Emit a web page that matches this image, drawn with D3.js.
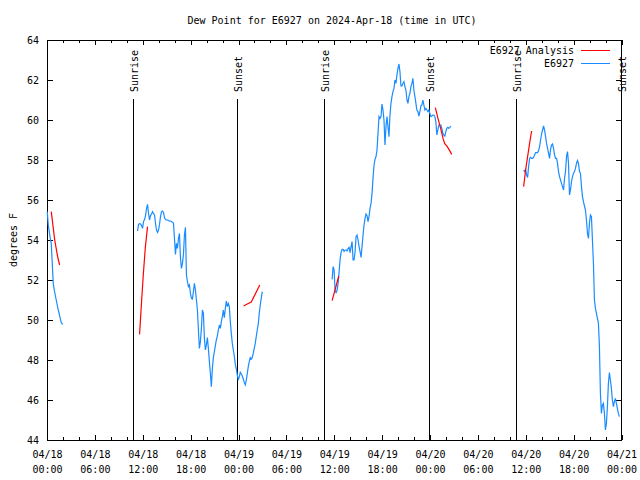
<!DOCTYPE html>
<html><head><meta charset="utf-8">
<script src="https://cdn.jsdelivr.net/npm/d3@7"></script>
<style>
body{margin:0;background:#fff}
svg text{font-family:"DejaVu Sans Mono",monospace;font-size:10px;fill:#000}
</style>
</head><body><svg id="c" width="640" height="480"></svg>
<script>
// ---------- data ----------
const chartTitle = "Dew Point for E6927 on 2024-Apr-18 (time in UTC)";
const yAxisLabel = "degrees F";
const seriesNames = ["E6927 Analysis", "E6927"];
const seriesColors = ["#ff0000", "#1a8cff"];
const xDomain = ["2024-04-18T00:00:00Z", "2024-04-21T00:00:00Z"];
const yDomain = [44, 64];
const yTickValues = [44, 46, 48, 50, 52, 54, 56, 58, 60, 62, 64];
const majorTickHours = 6;
const minorTickHours = 2;

// observations (E6927), sampled every 7.5 minutes from each start time
const sampleMinutes = 7.5;
const obsStarts = ["2024-04-18T00:02:00Z", "2024-04-18T11:21:00Z", "2024-04-19T11:44:00Z", "2024-04-20T11:44:00Z"];
const obsSeg1 = [55.42,54.75,54.42,54.08,53.83,52.83,51.83,51.5,51.25,51.0,50.75,50.5,50.3,50.08,49.87,49.8,49.8];
const obsSeg2 = [54.45,54.78,54.82,54.8,54.72,54.58,54.92,55.02,55.22,55.58,
55.78,55.33,55.0,55.22,55.3,55.42,55.32,55.25,54.83,54.5,
54.38,54.5,54.78,55.17,55.42,55.45,55.38,55.12,55.02,55.0,
55.0,54.97,54.95,54.95,54.92,54.88,54.85,54.08,53.28,53.83,
53.58,54.08,54.33,53.12,52.58,52.83,53.28,54.25,54.63,52.25,
51.92,51.67,51.75,51.33,51.08,51.05,51.42,51.83,51.5,51.0,
50.5,49.5,48.58,48.92,49.58,50.5,50.33,49.08,48.5,48.75,
49.12,48.58,47.92,47.33,46.67,47.58,48.12,48.42,48.72,49.0,
49.2,49.5,49.75,49.58,49.92,50.17,50.5,50.12,50.58,50.95,
50.67,50.83,50.67,49.92,49.33,48.83,48.5,48.2,47.78,47.55,
47.25,47.0,47.17,47.38,47.3,47.2,47.05,46.88,46.75,46.98,
47.33,47.67,47.92,48.12,48.05,48.13,48.33,48.58,48.83,49.17,
49.5,49.8,50.33,50.75,51.08,51.42];
const obsSeg3 = [52.03,52.67,52.5,51.42,51.37,51.5,51.83,52.42,53.03,53.38,
53.53,53.53,53.43,53.5,53.5,53.45,53.57,53.63,53.37,53.67,
53.92,53.0,53.0,53.42,54.17,54.25,54.0,53.67,53.42,53.13,
53.67,54.25,54.75,55.08,55.3,55.22,54.92,55.17,55.58,55.83,
56.33,57.08,57.75,58.03,58.17,58.5,59.33,60.17,60.08,60.17,
60.8,60.5,60.0,58.75,59.67,60.17,59.67,59.17,60.25,60.83,
61.17,61.42,61.58,62.0,61.83,62.25,62.58,62.8,62.42,61.7,
61.7,61.83,61.92,61.67,61.5,61.0,60.83,61.17,61.33,61.67,
61.83,62.08,61.5,61.17,60.83,60.5,60.42,60.2,60.42,60.7,
60.75,61.0,60.75,60.5,60.58,60.5,60.42,60.5,60.33,60.17,
60.2,60.25,60.25,60.17,59.92,59.25,59.5,59.75,59.75,59.75,
59.58,59.33,59.25,59.2,59.42,59.58,59.63,59.58,59.63,59.7];
const obsSeg4 = [57.5,57.42,57.53,57.25,57.13,57.67,58.08,58.13,58.08,58.08,
58.13,58.25,58.37,58.37,58.37,58.47,58.67,59.0,59.3,59.5,
59.7,59.5,59.17,58.83,58.58,58.33,58.08,58.53,58.75,58.8,
58.58,58.25,58.08,58.08,57.83,57.42,57.17,57.0,56.83,56.67,
56.5,57.08,57.42,58.17,58.42,57.83,56.25,56.5,56.92,57.17,
57.33,57.42,57.58,57.83,57.97,57.83,57.42,57.33,56.67,56.17,
55.92,55.7,55.5,55.0,54.33,54.08,54.83,55.25,55.17,54.0,
52.83,51.0,50.58,50.33,50.08,49.83,48.67,46.33,45.33,45.75,
45.83,45.33,44.5,44.83,45.67,46.83,47.37,47.0,46.58,46.0,
45.67,45.92,46.08,45.83,45.58,45.33,45.17];
const obsSegments = [obsSeg1, obsSeg2, obsSeg3, obsSeg4];

// analysis (E6927 Analysis)
const anTimes1 = ["2024-04-18T00:32Z","2024-04-18T00:58Z","2024-04-18T01:20Z","2024-04-18T01:35Z"];
const anValues1 = [55.42,54.0,53.17,52.75];
const anTimes2 = ["2024-04-18T11:36Z","2024-04-18T11:51Z","2024-04-18T12:04Z","2024-04-18T12:19Z","2024-04-18T12:36Z"];
const anValues2 = [49.28,50.9,52.25,53.6,54.67];
const anTimes3 = ["2024-04-19T00:38Z","2024-04-19T01:06Z","2024-04-19T01:36Z","2024-04-19T02:40Z"];
const anValues3 = [50.7,50.8,50.9,51.75];
const anTimes4 = ["2024-04-19T11:44Z","2024-04-19T12:34Z"];
const anValues4 = [50.97,52.2];
const anTimes5 = ["2024-04-20T00:40Z","2024-04-20T01:00Z","2024-04-20T01:20Z","2024-04-20T01:38Z","2024-04-20T01:50Z","2024-04-20T02:10Z","2024-04-20T02:28Z","2024-04-20T02:43Z"];
const anValues5 = [60.62,60.08,59.58,59.08,58.83,58.67,58.47,58.28];
const anTimes6 = ["2024-04-20T11:44Z","2024-04-20T11:59Z","2024-04-20T12:14Z","2024-04-20T12:29Z","2024-04-20T12:44Z"];
const anValues6 = [56.67,57.5,58.17,58.83,59.45];
const anTimes = [anTimes1, anTimes2, anTimes3, anTimes4, anTimes5, anTimes6];
const anValues = [anValues1, anValues2, anValues3, anValues4, anValues5, anValues6];

// sunrise / sunset markers
const sunTimes = ["2024-04-18T10:49Z","2024-04-18T23:51Z","2024-04-19T10:45Z","2024-04-19T23:55Z","2024-04-20T10:47Z","2024-04-20T23:58Z"];
const sunLabels = ["Sunrise","Sunset","Sunrise","Sunset","Sunrise","Sunset"];

// ---------- drawing ----------
const W = 640, H = 480;
const L = 47, R = 621.5, T = 40, B = 440;
const svg = d3.select("#c");
svg.append("rect").attr("width", W).attr("height", H).attr("fill", "#fff");

const x = d3.scaleUtc().domain(xDomain.map(d => new Date(d))).range([L, R]);
const y = d3.scaleLinear().domain(yDomain).range([B, T]);

const majorTicks = d3.utcHour.every(majorTickHours).range(x.domain()[0], new Date(+x.domain()[1] + 1));
const minorTicks = d3.utcHour.every(minorTickHours).range(x.domain()[0], new Date(+x.domain()[1] + 1))
  .filter(d => d.getUTCHours() % majorTickHours !== 0);

function styleAxis(g) {
  g.select(".domain").remove();
  g.selectAll("line").attr("stroke", "#000").attr("shape-rendering", "crispEdges");
}

// bottom axis (inward ticks)
const gB = svg.append("g").attr("transform", `translate(0,${B})`)
  .call(d3.axisBottom(x).tickValues(majorTicks).tickSize(-5).tickFormat(d3.utcFormat("%m/%d")));
styleAxis(gB);
const f2 = d3.utcFormat("%H:%M");
gB.selectAll(".tick text").each(function(d) {
  const t = d3.select(this);
  const top = t.text();
  t.text(null).attr("y", 18).attr("dy", null).attr("fill", "#000")
    .style("font-family", '"DejaVu Sans Mono",monospace').style("font-size", "10px");
  t.append("tspan").attr("x", 0).attr("y", 18).text(top);
  t.append("tspan").attr("x", 0).attr("y", 33).text(f2(d));
});
svg.append("g").attr("transform", `translate(0,${B})`)
  .call(d3.axisBottom(x).tickValues(minorTicks).tickSize(-3).tickFormat(""))
  .call(styleAxis);
// top axis mirror
svg.append("g").attr("transform", `translate(0,${T})`)
  .call(d3.axisTop(x).tickValues(majorTicks).tickSize(-5).tickFormat(""))
  .call(styleAxis);
svg.append("g").attr("transform", `translate(0,${T})`)
  .call(d3.axisTop(x).tickValues(minorTicks).tickSize(-3).tickFormat(""))
  .call(styleAxis);
// left axis
const gL = svg.append("g").attr("transform", `translate(${L},0)`)
  .call(d3.axisLeft(y).tickValues(yTickValues).tickSize(-6).tickPadding(8).tickFormat(d3.format("d")));
styleAxis(gL);
gL.selectAll(".tick text").attr("x", -8).attr("fill", "#000")
  .style("font-family", '"DejaVu Sans Mono",monospace').style("font-size", "10px");
// right axis mirror
svg.append("g").attr("transform", `translate(${R},0)`)
  .call(d3.axisRight(y).tickValues(yTickValues).tickSize(-6).tickFormat(""))
  .call(styleAxis);

// border
svg.append("rect").attr("x", L).attr("y", T).attr("width", R - L).attr("height", B - T)
  .attr("fill", "none").attr("stroke", "#000").attr("shape-rendering", "crispEdges");

// sunrise / sunset
const sunG = svg.append("g");
sunTimes.forEach((s, i) => {
  const sx = x(new Date(s));
  sunG.append("line").attr("x1", sx).attr("x2", sx).attr("y1", 99).attr("y2", B)
    .attr("stroke", "#000").attr("shape-rendering", "crispEdges");
  sunG.append("text").attr("transform", `translate(${sx + 1},92) rotate(-90)`)
    .attr("dominant-baseline", "central").attr("text-anchor", "start").text(sunLabels[i]);
});

// lines
const line = d3.line().x(d => x(d.t)).y(d => y(d.v));
obsSegments.forEach((vals, i) => {
  const t0 = new Date(obsStarts[i]);
  const pts = vals.map((v, k) => ({t: new Date(+t0 + k * sampleMinutes * 60000), v}));
  svg.append("path").datum(pts).attr("d", line).attr("fill", "none")
    .attr("stroke", seriesColors[1]).attr("stroke-width", 1.2);
});
anValues.forEach((vals, i) => {
  const pts = vals.map((v, k) => ({t: new Date(anTimes[i][k]), v}));
  svg.append("path").datum(pts).attr("d", line).attr("fill", "none")
    .attr("stroke", seriesColors[0]).attr("stroke-width", 1.2);
});

// title and y label
svg.append("text").attr("x", 332).attr("y", 24).attr("text-anchor", "middle").text(chartTitle);
svg.append("text").attr("transform", "translate(13,240) rotate(-90)")
  .attr("text-anchor", "middle").attr("dominant-baseline", "central").text(yAxisLabel);

// legend
const lg = svg.append("g");
seriesNames.forEach((n, i) => {
  const ly = 50 + i * 13;
  lg.append("rect").attr("x", 490 - 2).attr("y", ly - 6).attr("width", 0).attr("height", 0);
  lg.append("text").attr("x", 574).attr("y", ly).attr("text-anchor", "end")
    .attr("dominant-baseline", "central").text(n);
  lg.append("line").attr("x1", 581).attr("x2", 610).attr("y1", ly).attr("y2", ly)
    .attr("stroke", seriesColors[i]).attr("shape-rendering", "crispEdges");
});
</script>
</body></html>
